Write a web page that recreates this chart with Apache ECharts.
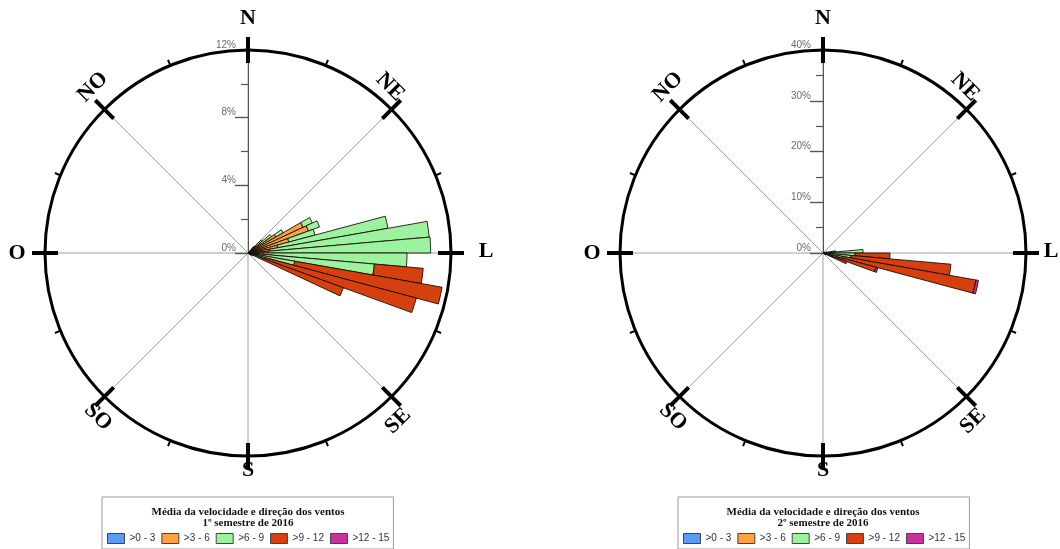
<!DOCTYPE html>
<html>
<head>
<meta charset="utf-8">
<script src="https://cdn.jsdelivr.net/npm/echarts@6/dist/echarts.min.js"></script>
<style>
  html, body { margin: 0; padding: 0; background: #fff; }
  #chart { width: 1060px; height: 549px; }
</style>
</head>
<body>
<div id="chart"></div>
<script>
// Wind speed classes and their fill colours
const classNames = ['>0 - 3', '>3 - 6', '>6 - 9', '>9 - 12', '>12 - 15'];
const classColors = ['#5b9bf3', '#f9a143', '#9df29f', '#d6400e', '#cb2f9c'];

// 1st half of 2016: start of each 5° direction sector (compass degrees)
// and frequency (%) of each speed class in that sector
const dirs1 = [40, 45, 50, 55, 60, 65, 70, 75, 80, 85, 90, 95, 100, 105, 110, 115, 120];
const s1c1 = [0.2, 0.3, 0.3, 0.3, 0.3, 0.3, 0.3, 0.3, 0.3, 0.3, 0.3, 0.2, 0.2, 0.2, 0.2, 0.2, 0.1];
const s1c2 = [0.1, 0.3, 0.6, 1.6, 3.3, 3.5, 2.2, 1.5, 1.0, 0.9, 0.6, 0.4, 0.3, 0.3, 0.2, 0.1, 0.1];
const s1c3 = [0.2, 0.5, 0.8, 0.5, 0.6, 0.7, 1.6, 6.6, 9.45, 9.6, 8.5, 6.9, 2.3, 0.5, 0.3, 0, 0];
const s1c4 = [0, 0, 0, 0, 0, 0, 0, 0, 0, 0, 0, 2.9, 8.85, 9.3, 5.3, 0, 0];
const s1c5 = [0, 0, 0, 0, 0, 0, 0, 0, 0, 0, 0, 0, 0, 0, 0, 0, 0];

// 2nd half of 2016
const dirs2 = [75, 80, 85, 90, 95, 100, 105, 110, 115];
const s2c1 = [0.2, 0.3, 0.3, 0.3, 0.2, 0.2, 0.2, 0.2, 0.1];
const s2c2 = [0.3, 0.5, 0.8, 0.7, 0.6, 0.5, 0.4, 0.3, 0.2];
const s2c3 = [0.3, 1.7, 6.8, 5.3, 4.7, 3.3, 2.4, 1.0, 0.3];
const s2c4 = [0, 0, 0, 6.9, 19.8, 26.6, 7.8, 3.5, 0];
const s2c5 = [0, 0, 0, 0, 0, 0.5, 0.4, 0, 0];

// Radial scale ticks (%)
const scale1 = { max: 12, interval: 4 };
const scale2 = { max: 40, interval: 10 };

const subtitles = ['1º semestre de 2016', '2º semestre de 2016'];
const compassLabels = ['N', 'NE', 'L', 'SE', 'S', 'SO', 'O', 'NO'];

// ---- layout ----
const SECTOR = 5;
const N_SECTORS = 360 / SECTOR;
const RADIUS = 203;
const roses = [
  { center: [248, 253], dirs: dirs1, classes: [s1c1, s1c2, s1c3, s1c4, s1c5], scale: scale1, legendLeft: 102, eastOffset: 238 },
  { center: [823, 253], dirs: dirs2, classes: [s2c1, s2c2, s2c3, s2c4, s2c5], scale: scale2, legendLeft: 678, eastOffset: 228 }
];
// compass label placement: offset from the rose centre and rotation (deg, ccw)
const labelPlacement = {
  N: [0, -235, 0], NE: [142, -166, -45], L: [null, -2, 0], SE: [150, 168, 45],
  S: [0, 217, 0], SO: [-150, 164, -45], O: [-231, 0, 0], NO: [-155, -166, 45]
};

const sectorCats = Array.from({ length: N_SECTORS }, (_, i) => i * SECTOR);

function sectorData(dirs, vals) {
  const out = new Array(N_SECTORS).fill('-');
  dirs.forEach((d, i) => { if (vals[i] > 0) out[d / SECTOR] = vals[i]; });
  return out;
}

const polar = [], angleAxis = [], radiusAxis = [], series = [], legend = [], title = [], graphic = [];

roses.forEach((r, k) => {
  const pData = polar.length;
  // data polar
  polar.push({ center: r.center, radius: RADIUS });
  angleAxis.push({
    polarIndex: pData, type: 'category', data: sectorCats, startAngle: 90, clockwise: true,
    boundaryGap: true,
    axisLine: { show: true, lineStyle: { color: '#000', width: 3 } },
    axisTick: { show: true, inside: true, length: 13, lineStyle: { color: '#000', width: 4 },
      interval: (i) => i % 9 === 0 },
    axisLabel: { show: false }, splitLine: { show: false }, z: 3
  });
  radiusAxis.push({
    polarIndex: pData, type: 'value', min: 0, max: r.scale.max, interval: r.scale.interval,
    axisLine: { show: true, lineStyle: { color: '#555', width: 1 } },
    axisTick: { show: true, length: 13, lineStyle: { color: '#555', width: 1.2 } },
    axisLabel: {
      show: true, formatter: '{value}%', fontFamily: '"Liberation Sans", Arial, sans-serif',
      fontSize: 10, color: '#6a6a6a', margin: 12, verticalAlign: 'bottom'
    },
    splitLine: { show: false }
  });
  // decoration polar: spokes, outside compass ticks, inside radial ticks
  const pDeco = polar.length;
  polar.push({ center: r.center, radius: RADIUS });
  angleAxis.push({
    polarIndex: pDeco, type: 'value', min: 0, max: 360, interval: 45, startAngle: 90, clockwise: true,
    axisLine: { show: false },
    axisTick: { show: true, inside: false, length: 13, lineStyle: { color: '#000', width: 4 } },
    minorTick: { show: true, splitNumber: 2, length: 6, lineStyle: { color: '#000', width: 2 } },
    axisLabel: { show: false },
    splitLine: { show: true, lineStyle: { color: '#a0a0a0', width: 1 } }
  });
  radiusAxis.push({
    polarIndex: pDeco, type: 'value', min: 0, max: r.scale.max, interval: r.scale.interval,
    axisLine: { show: false },
    axisTick: { show: true, inside: true, length: 13, lineStyle: { color: '#555', width: 1.2 } },
    minorTick: { show: true, splitNumber: 2, length: 7, lineStyle: { color: '#555', width: 1.2 } },
    axisLabel: { show: false }, splitLine: { show: false }
  });

  r.classes.forEach((vals, c) => {
    series.push({
      name: classNames[c], type: 'bar', coordinateSystem: 'polar', polarIndex: pData,
      stack: 'rose' + k, barCategoryGap: '0%', silent: true,
      data: sectorData(r.dirs, vals),
      itemStyle: { color: classColors[c], borderColor: 'rgba(15,8,0,0.85)', borderWidth: 1 },
      z: 2
    });
  });

  legend.push({
    data: classNames, left: r.legendLeft, top: 497, orient: 'horizontal', selectedMode: false,
    icon: 'rect', itemWidth: 17, itemHeight: 10, itemGap: 6,
    padding: [36, 4, 5, 5], borderColor: '#9a9a9a', borderWidth: 1,
    itemStyle: { borderColor: '#444', borderWidth: 1 },
    textStyle: { fontFamily: '"Liberation Sans", Arial, sans-serif', fontSize: 10, color: '#333' }
  });
  title.push({
    text: 'Média da velocidade e direção dos ventos\n' + subtitles[k],
    left: r.center[0], top: 507, textAlign: 'center', padding: 0,
    textStyle: { fontFamily: '"Liberation Serif", "Times New Roman", serif', fontWeight: 'bold',
      fontSize: 11, lineHeight: 11, color: '#111' }
  });
  compassLabels.forEach((t) => {
    const [dxRaw, dy, rot] = labelPlacement[t];
    const dx = dxRaw === null ? r.eastOffset : dxRaw;
    graphic.push({
      type: 'text', x: r.center[0] + dx, y: r.center[1] + dy, rotation: rot * Math.PI / 180,
      style: { text: t, font: 'bold 22px "Liberation Serif", "Times New Roman", serif', fill: '#000',
        align: 'center', verticalAlign: 'middle', textAlign: 'center', textVerticalAlign: 'middle' }
    });
  });
});

const chart = echarts.init(document.getElementById('chart'));
chart.setOption({
  animation: false,
  backgroundColor: '#fff',
  polar, angleAxis, radiusAxis, series, legend, title, graphic
});
</script>
</body>
</html>
